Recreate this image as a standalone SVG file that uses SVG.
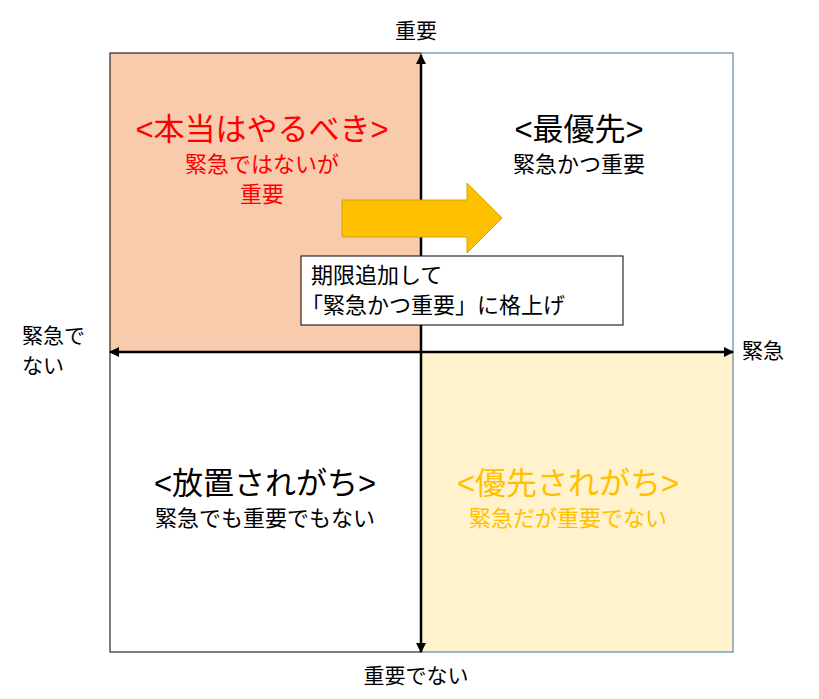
<svg xmlns="http://www.w3.org/2000/svg" width="819" height="699" viewBox="0 0 819 699">
<defs>
<style>
text{font-family:"Liberation Sans","Noto Sans CJK JP",sans-serif;}
.t{font-size:31px;text-anchor:middle}
.s{font-size:22px;text-anchor:middle}
.ax{font-size:21px;fill:#000}
.l{stroke:#000;stroke-width:2.5;fill:none}
</style>
<marker id="ah" viewBox="0 0 10 10" refX="9" refY="5" markerWidth="4" markerHeight="4" orient="auto-start-reverse"><path d="M0,0L10,5L0,10z" fill="#000"/></marker>
</defs>
<rect width="819" height="699" fill="#fff"/>
<g id="q1"><rect x="110" y="53" width="311" height="299" fill="#F8CBAD" stroke="#000" stroke-width="1"/>
<text class="t" x="262" y="140" fill="#FF0000">&lt;本当はやるべき&gt;</text>
<text class="s" x="262" y="172" fill="#FF0000">緊急ではないが</text>
<text class="s" x="262" y="202" fill="#FF0000">重要</text></g>
<g id="q2"><rect x="421" y="53" width="312" height="299" fill="#fff" stroke="#41719C" stroke-width="1"/>
<text class="t" x="579" y="140" fill="#000">&lt;最優先&gt;</text>
<text class="s" x="579" y="172" fill="#000">緊急かつ重要</text></g>
<g id="q3"><rect x="110" y="352" width="311" height="300" fill="#fff" stroke="#000" stroke-width="1"/>
<text class="t" x="265" y="494" fill="#000">&lt;放置されがち&gt;</text>
<text class="s" x="265" y="526" fill="#000">緊急でも重要でもない</text></g>
<g id="q4"><rect x="421" y="352" width="312" height="300" fill="#FFF2CC" stroke="#41719C" stroke-width="1"/>
<text class="t" x="568" y="494" fill="#FFC000">&lt;優先されがち&gt;</text>
<text class="s" x="568" y="526" fill="#FFC000">緊急だが重要でない</text></g>
<g id="connectors">
<line class="l" x1="421" y1="652" x2="421" y2="55" marker-end="url(#ah)" marker-start="url(#ah)"/>
<line class="l" x1="110" y1="352" x2="733" y2="352" marker-end="url(#ah)" marker-start="url(#ah)"/>
</g>
<g id="arrow"><path d="M342,200H467V183L502,218L467,253V237H342Z" fill="#FFC000" stroke="#D6A300" stroke-width="1"/></g>
<g id="note"><rect x="301" y="256" width="322" height="69" fill="#fff" stroke="#000" stroke-width="1"/>
<text x="311" y="283" font-size="22">期限追加して</text>
<text x="301" y="313" font-size="22">「緊急かつ重要」に格上げ</text></g>
<g id="labels">
<text class="ax" x="416" y="38" text-anchor="middle">重要</text>
<text class="ax" x="416" y="683" text-anchor="middle">重要でない</text>
<text class="ax" x="742" y="358">緊急</text>
<text class="ax" x="22" y="343">緊急で</text>
<text class="ax" x="22" y="373">ない</text>
</g>
</svg>
